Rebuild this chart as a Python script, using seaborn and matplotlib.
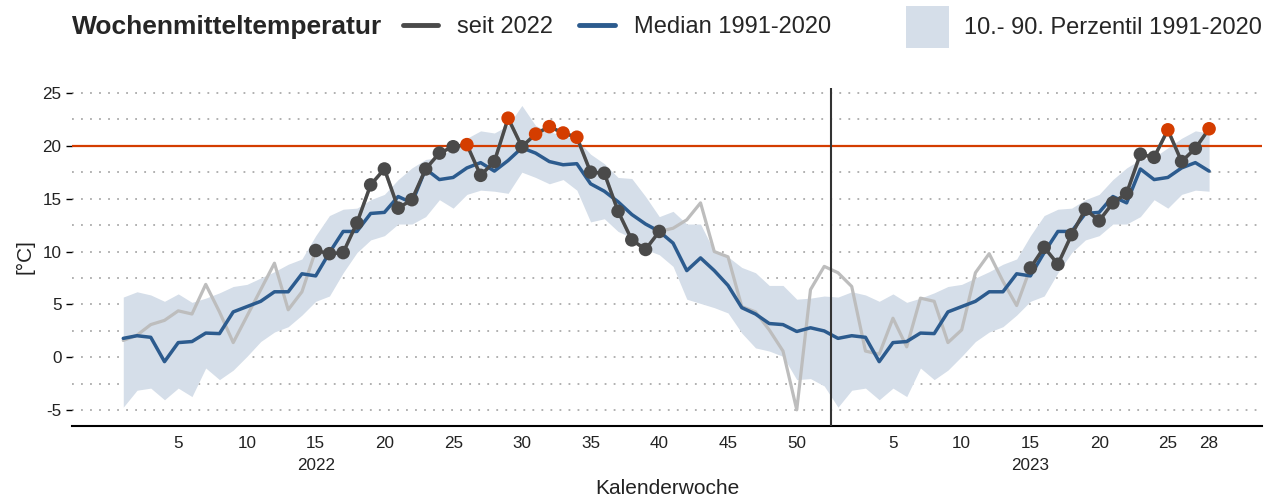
import numpy as np
import pandas as pd
import matplotlib
import matplotlib.pyplot as plt
import seaborn as sns
from matplotlib.lines import Line2D
from matplotlib.patches import Patch

# calendar weeks shown
weeks_2022 = list(range(1, 53))
weeks_2023 = list(range(1, 29))

# climatology 1991-2020 per calendar week
median_clim = [1.8, 2.05, 1.9, -0.4, 1.4, 1.5, 2.3, 2.25, 4.3, 4.8, 5.3, 6.2, 6.2,
               7.9, 7.7, 9.9, 11.9, 11.9, 13.6, 13.7, 15.2, 14.6, 17.8, 16.8, 17.0, 17.9,
               18.4, 17.6, 18.6, 19.8, 19.3, 18.5, 18.2, 18.3, 16.4, 15.7, 14.7, 13.5, 12.6,
               11.9, 10.8, 8.2, 9.4, 8.2, 6.8, 4.7, 4.1, 3.2, 3.1, 2.45, 2.8, 2.5]
p90_clim = [5.7, 6.2, 5.9, 5.3, 6.0, 5.2, 5.6, 6.1, 6.7, 6.9, 7.5, 8.1, 8.8,
            9.3, 11.5, 13.4, 14.0, 14.1, 14.9, 15.4, 16.8, 17.9, 18.7, 18.9, 19.8, 20.7,
            21.4, 21.2, 21.9, 23.8, 21.9, 21.3, 21.0, 20.6, 19.2, 18.3, 17.0, 16.9, 15.2,
            13.3, 13.8, 12.6, 12.6, 10.0, 9.5, 8.5, 8.0, 6.8, 6.8, 5.5, 5.6, 5.8]
p10_clim = [-4.7, -3.1, -2.9, -4.0, -2.9, -3.7, -1.0, -2.1, -1.2, 0.1, 1.5, 2.4, 2.9,
            4.0, 5.3, 5.8, 8.0, 9.9, 11.1, 11.5, 12.6, 12.6, 13.3, 14.9, 14.1, 15.4,
            15.8, 15.7, 15.5, 17.5, 17.0, 16.4, 16.8, 15.8, 12.8, 13.1, 11.9, 11.3, 10.2,
            9.7, 8.6, 5.5, 5.1, 4.7, 4.2, 2.3, 0.9, 0.6, 0.1, -2.1, -2.0, -2.7]

# weekly mean temperature since 2022
temp_2022 = [1.6, 2.1, 3.1, 3.5, 4.4, 4.1, 6.9, 4.3, 1.4, 3.9, 6.4, 8.9, 4.5,
             6.2, 10.1, 9.8, 9.9, 12.7, 16.3, 17.8, 14.1, 14.9, 17.8, 19.3, 19.9, 20.1,
             17.2, 18.5, 22.6, 19.9, 21.1, 21.8, 21.2, 20.8, 17.5, 17.4, 13.8, 11.1, 10.2,
             11.9, 12.2, 13.0, 14.6, 10.0, 9.5, 4.8, 4.3, 2.6, 0.6, -4.95, 6.4, 8.6]
temp_2023 = [8.0, 6.7, 0.6, 0.3, 3.7, 1.0, 5.6, 5.3, 1.4, 2.6, 8.0, 9.8, 7.2,
             4.9, 8.45, 10.4, 8.8, 11.6, 14.0, 12.9, 14.6, 15.5, 19.2, 18.9, 21.5, 18.5,
             19.75, 21.6]

threshold = 20
highlight_2022 = (15, 40)
highlight_2023 = (15, 28)
xtick_weeks_2022 = [5, 10, 15, 20, 25, 30, 35, 40, 45, 50]
xtick_weeks_2023 = [5, 10, 15, 20, 25, 28]
year_label_week = 15

# colours
c_dark = "#4a4a4a"
c_light = "#bdbdbd"
c_blue = "#2c5b8e"
c_band = "#d5dee9"
c_red = "#d43d00"

df = pd.DataFrame({
    "year": [2022] * len(weeks_2022) + [2023] * len(weeks_2023),
    "week": weeks_2022 + weeks_2023,
    "temp": temp_2022 + temp_2023,
    "median": median_clim + median_clim[:len(weeks_2023)],
    "p10": p10_clim + p10_clim[:len(weeks_2023)],
    "p90": p90_clim + p90_clim[:len(weeks_2023)],
})
df["pos"] = np.arange(1, len(df) + 1)

hl = df[((df.year == 2022) & df.week.between(*highlight_2022)) |
        ((df.year == 2023) & df.week.between(*highlight_2023))].copy()
hl["segment"] = hl["year"]
hl["above"] = hl["temp"] > threshold

sns.set_style("white")
plt.rcParams['font.family'] = ['Liberation Sans', 'DejaVu Sans']
plt.rcParams['axes.unicode_minus'] = False

fig = plt.figure(figsize=(12.78, 5), dpi=100)
ax = fig.add_axes([72 / 1278, 74.3 / 500, 1190 / 1278, 337.7 / 500])

ax.fill_between(df.pos, df.p10, df.p90, color=c_band, linewidth=0, zorder=1)
ax.axhline(threshold, color=c_red, lw=1.6, zorder=2)
sns.lineplot(data=df, x="pos", y="temp", color=c_light, lw=2.3, ax=ax, zorder=3)
sns.lineplot(data=df, x="pos", y="median", color=c_blue, lw=2.5, ax=ax, zorder=3)
sns.lineplot(data=hl, x="pos", y="temp", units="segment", estimator=None,
             color=c_dark, lw=2.5, ax=ax, zorder=4)
sns.scatterplot(data=hl, x="pos", y="temp", hue="above",
                palette={False: c_dark, True: c_red}, s=95, linewidth=0,
                legend=False, ax=ax, zorder=5)

# year boundary
boundary = df.loc[df.year == 2022, "pos"].max() + 0.5
ax.axvline(boundary, color="#333333", lw=1.5, zorder=6)

ax.set_xlim(-2.73, 83.85)
ax.set_ylim(-6.45, 25.45)

# x ticks
tick_rows = df[((df.year == 2022) & df.week.isin(xtick_weeks_2022)) |
               ((df.year == 2023) & df.week.isin(xtick_weeks_2023))]
ax.set_xticks(tick_rows.pos, labels=[str(w) for w in tick_rows.week])
ax.tick_params(axis="x", which="major", length=4.5, width=1, color="black",
               labelsize=12.3, pad=3, labelcolor="#222222")
year_rows = df[df.week == year_label_week]
for pos, year in zip(year_rows.pos.tolist(), year_rows.year.tolist()):
    ax.text(pos, -0.119, str(int(year)), transform=ax.get_xaxis_transform(),
            ha="center", va="center", fontsize=12.3, color="#222222")

# y ticks and dotted grid
ax.set_yticks(np.arange(-5, 26, 5))
ax.set_yticks(np.arange(-2.5, 25, 5), minor=True)
ax.tick_params(axis="y", which="major", length=4.5, width=1, color="black",
               labelsize=12.3, pad=3, left=True, labelcolor="#222222")
ax.tick_params(axis="y", which="minor", length=0)
ax.grid(True, axis="y", which="both", color="#aaaaaa", lw=1.3,
        linestyle=(0, (1, 4)))
ax.grid(False, axis="x")

for s in ["top", "right", "left"]:
    ax.spines[s].set_visible(False)
ax.spines["bottom"].set_color("black")
ax.spines["bottom"].set_linewidth(1.5)

ax.set_xlabel("Kalenderwoche", fontsize=15, color="#222222")
ax.xaxis.set_label_coords(0.5, -0.187)
ax.xaxis.label.set_va("center")
ax.set_ylabel("[°C]", fontsize=15, labelpad=6, color="#222222")

# legend
fig.text(72 / 1278, 0.946, "Wochenmitteltemperatur", fontsize=19,
         fontweight="bold", va="center", ha="left")
line_handles = [Line2D([0], [0], color=c_dark, lw=3.5),
                Line2D([0], [0], color=c_blue, lw=3.5)]
fig.legend(line_handles, ["seit 2022", "Median 1991-2020"], loc="center left",
           bbox_to_anchor=(403 / 1278, 0.946), ncol=2, frameon=False, fontsize=17,
           handlelength=1.5, handletextpad=0.8, columnspacing=1.1,
           borderaxespad=0, borderpad=0)
fig.legend([Patch(facecolor=c_band, edgecolor="none")], ["10.- 90. Perzentil 1991-2020"],
           loc="center right", bbox_to_anchor=(1262 / 1278, 0.946), frameon=False,
           fontsize=17, handlelength=1.8, handleheight=2.4, handletextpad=0.65,
           borderaxespad=0, borderpad=0)

fig.savefig("out.png", dpi=100)
